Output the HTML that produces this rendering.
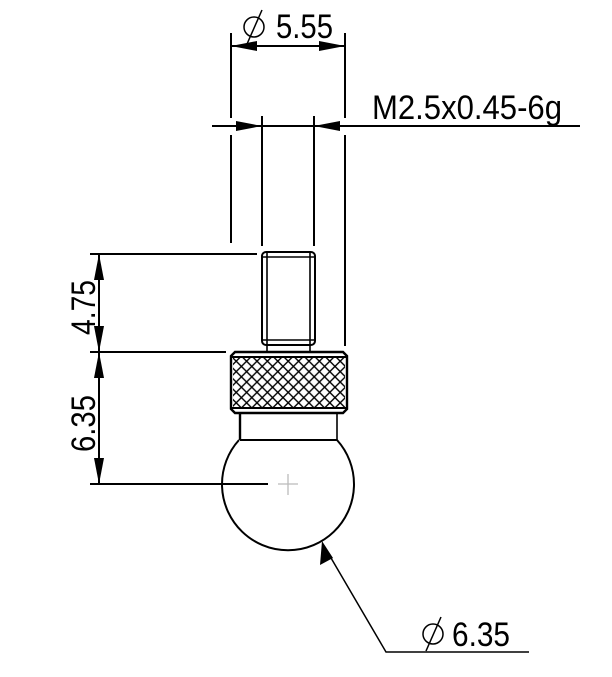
<!DOCTYPE html>
<html><head><style>html,body{margin:0;padding:0;background:#fff}svg{display:block}</style></head><body>
<svg width="612" height="677" viewBox="0 0 612 677" xmlns="http://www.w3.org/2000/svg" font-family="Liberation Sans, sans-serif">
<defs>
<pattern id="kn" patternUnits="userSpaceOnUse" width="10.4" height="10.4" x="231" y="356">
<path d="M0,0 L10.4,10.4 M10.4,0 L0,10.4 M-1,9.4 L1,11.4 M9.4,-1 L11.4,1" stroke="#000" stroke-width="1.4"/>
</pattern>
<clipPath id="kc"><rect x="233" y="357" width="112" height="51"/></clipPath>
</defs>
<g stroke="#000" fill="none" stroke-width="2">
<line x1="231" y1="33" x2="231" y2="118"/>
<line x1="231" y1="135" x2="231" y2="243"/>
<line x1="345" y1="33" x2="345" y2="118"/>
<line x1="345" y1="135" x2="345" y2="346"/>
<line x1="262" y1="116" x2="262" y2="246"/>
<line x1="314" y1="116" x2="314" y2="246"/>
<line x1="231" y1="46" x2="345" y2="46"/>
<line x1="212" y1="126" x2="580" y2="126"/>
<line x1="90" y1="254" x2="257" y2="254"/>
<line x1="90" y1="352" x2="226" y2="352"/>
<line x1="90" y1="484" x2="268" y2="484"/>
<line x1="99" y1="254" x2="99" y2="484"/>
<rect x="262" y="252" width="53" height="93" rx="4"/>
<line x1="267" y1="253" x2="267" y2="352" stroke-width="1.6"/>
<line x1="310" y1="253" x2="310" y2="352" stroke-width="1.6"/>
<line x1="263" y1="257" x2="314" y2="257" stroke-width="1.6"/>
<line x1="263" y1="340" x2="314" y2="340" stroke-width="1.6"/>
<path d="M235,352 H343 L347,356 V409 L343,413 H235 L231,409 V356 Z" stroke-width="2.4"/>
<line x1="232" y1="357" x2="346" y2="357"/>
<line x1="232" y1="408" x2="346" y2="408"/>
<line x1="240" y1="413" x2="240" y2="440" stroke-width="2.4"/>
<line x1="337" y1="413" x2="337" y2="440" stroke-width="1.6"/>
<line x1="240" y1="440" x2="337" y2="440"/>
<path d="M239,440 A66,66 0 1 0 337,440"/>
<polyline points="324,546 386,652 529,652" stroke-width="1.5"/>
</g>
<rect x="233" y="357" width="112" height="51" fill="url(#kn)" clip-path="url(#kc)"/>
<g stroke="#bbb" stroke-width="1.3"><line x1="278" y1="484" x2="298" y2="484"/><line x1="288" y1="474" x2="288" y2="495"/></g>
<g fill="#000">
<polygon points="231,46 257,41 257,51"/><polygon points="345,46 319,41 319,51"/>
<polygon points="262,126 236,121 236,131"/><polygon points="314,126 340,121 340,131"/>
<polygon points="99,254 94,280 104,280"/><polygon points="99,352 94,326 104,326"/>
<polygon points="99,352 94,378 104,378"/><polygon points="99,484 94,458 104,458"/>
<polygon points="322,541 320,565 333,558"/>
</g>
<g fill="#000" font-size="34">
<text x="276" y="38" textLength="57" lengthAdjust="spacingAndGlyphs">5.55</text>
<text x="372" y="119" font-size="34" textLength="190" lengthAdjust="spacingAndGlyphs">M2.5x0.45-6g</text>
<text x="452" y="646" textLength="58" lengthAdjust="spacingAndGlyphs">6.35</text>
<text transform="translate(95,335) rotate(-90)" textLength="55" lengthAdjust="spacingAndGlyphs">4.75</text>
<text transform="translate(95,452) rotate(-90)" textLength="57" lengthAdjust="spacingAndGlyphs">6.35</text>
</g>
<g stroke="#000" fill="none" stroke-width="1.5">
<circle cx="254" cy="27" r="10"/><line x1="247" y1="44" x2="262" y2="10"/>
<circle cx="433" cy="634" r="10"/><line x1="426" y1="651" x2="441" y2="617"/>
</g>
</svg>
</body></html>
